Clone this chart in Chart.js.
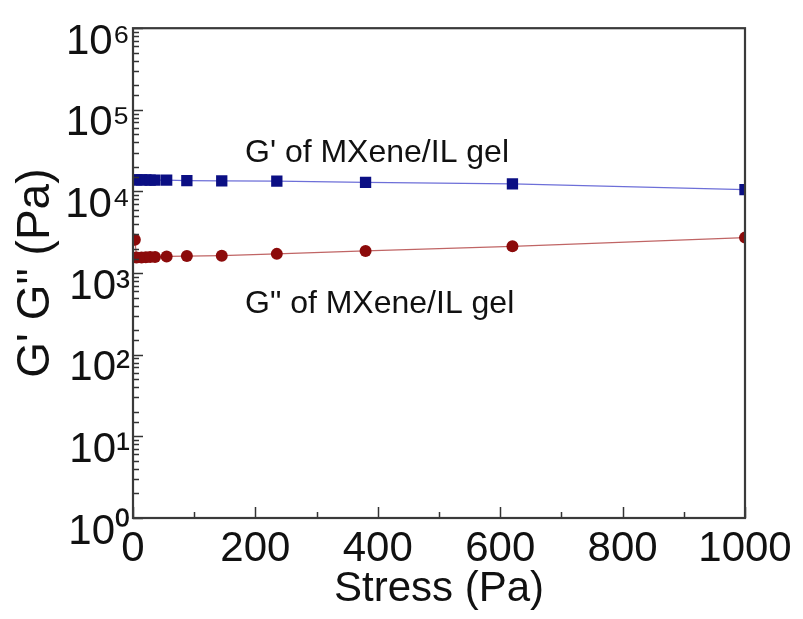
<!DOCTYPE html>
<html>
<head>
<meta charset="utf-8">
<script src="https://cdn.jsdelivr.net/npm/chart.js@4.4.1/dist/chart.umd.min.js"></script>
<style>
  html, body { margin: 0; padding: 0; background: #fff; }
  #wrap { width: 803px; height: 619px; }
</style>
</head>
<body>
<div id="wrap"><canvas id="grafico" width="803" height="619"></canvas></div>
<script>
// valores (Pa)
const stress = [3, 6, 14, 21, 28, 36, 55, 88, 145, 235, 380, 620, 1000];
const gLinha = [13900, 13900, 13900, 13850, 13800, 13800, 13750, 13600, 13500, 13400, 12900, 12400, 10550];
const gDuasLinhas = [2560, 1550, 1555, 1560, 1570, 1580, 1600, 1615, 1635, 1720, 1870, 2130, 2720];

const xLabels = [0, 200, 400, 600, 800, 1000];
const yLabels = ['10⁰', '10¹', '10²', '10³', '10⁴', '10⁵', '10⁶'];

const anotacoes = [
  { text: "G' of MXene/IL gel", x: 183, y: 23000 },
  { text: 'G" of MXene/IL gel', x: 183, y: 324 }
];

const fonte = '"Liberation Sans", Arial, sans-serif';

function pontos(ys) {
  return stress.map(function (s, i) { return { x: s, y: ys[i] }; });
}

// ticks para dentro + caixa em volta + textos
const moldura = {
  id: 'moldura',
  afterDraw(chart) {
    const ctx = chart.ctx;
    const area = chart.chartArea;
    const sx = chart.scales.x;
    const sy = chart.scales.y;
    ctx.save();
    ctx.strokeStyle = '#333';
    ctx.lineWidth = 1.5;
    sy.ticks.forEach(function (t) {
      const py = Math.round(sy.getPixelForValue(t.value)) + 0.5;
      const e = Math.log10(t.value);
      const len = Math.abs(e - Math.round(e)) < 1e-9 ? 10 : 6;
      ctx.beginPath();
      ctx.moveTo(area.left, py);
      ctx.lineTo(area.left + len, py);
      ctx.stroke();
    });
    sx.ticks.forEach(function (t) {
      const px = Math.round(sx.getPixelForValue(t.value)) + 0.5;
      const len = t.value % 200 === 0 ? 11 : 6;
      ctx.beginPath();
      ctx.moveTo(px, area.bottom);
      ctx.lineTo(px, area.bottom - len);
      ctx.stroke();
    });
    ctx.lineWidth = 2.2;
    ctx.strokeStyle = '#3a3a3a';
    ctx.strokeRect(area.left, area.top, area.right - area.left, area.bottom - area.top);

    ctx.fillStyle = '#111';
    ctx.font = '32px ' + fonte;
    ctx.textBaseline = 'alphabetic';
    ctx.textAlign = 'left';
    anotacoes.forEach(function (a) {
      ctx.fillText(a.text, sx.getPixelForValue(a.x), sy.getPixelForValue(a.y));
    });
    ctx.restore();
  }
};

const ctx = document.getElementById('grafico').getContext('2d');
const grafico = new Chart(ctx, {
  type: 'line',
  data: {
    datasets: [{
      label: "G'",
      data: pontos(gLinha),
      borderColor: '#6d6fd8',
      borderWidth: 1.2,
      backgroundColor: '#0b0f84',
      pointBackgroundColor: '#0b0f84',
      pointBorderColor: '#0b0f84',
      pointStyle: 'rect',
      pointRadius: 8,
      pointBorderWidth: 0,
      tension: 0,
      clip: 0
    }, {
      label: 'G"',
      data: pontos(gDuasLinhas),
      borderColor: '#c06565',
      borderWidth: 1.2,
      backgroundColor: '#8c0b0b',
      pointBackgroundColor: '#8c0b0b',
      pointBorderColor: '#8c0b0b',
      pointStyle: 'circle',
      pointRadius: 6,
      pointBorderWidth: 0,
      tension: 0,
      clip: 0
    }]
  },
  options: {
    responsive: false,
    animation: false,
    devicePixelRatio: 1,
    layout: { padding: { left: 0, top: 24, right: 58, bottom: 0 } },
    plugins: { legend: { display: false }, tooltip: { enabled: false } },
    scales: {
      x: {
        type: 'linear',
        min: 0,
        max: 1000,
        afterFit: function (s) { s.height = 101; },
        grid: { display: false, drawTicks: false },
        border: { display: false },
        ticks: {
          stepSize: 100,
          autoSkip: false,
          maxRotation: 0,
          padding: 6,
          color: '#111',
          font: { family: fonte, size: 42, lineHeight: 1.2 },
          callback: function (v) { return xLabels.indexOf(v) >= 0 ? String(v) : ''; }
        },
        title: {
          display: true,
          text: 'Stress (Pa)',
          color: '#111',
          font: { family: fonte, size: 42, lineHeight: 1.2 },
          padding: { top: 0, bottom: 4 }
        }
      },
      y: {
        type: 'logarithmic',
        min: 1,
        max: 1e6,
        afterFit: function (s) { s.width = 133; },
        grid: { display: false, drawTicks: false },
        border: { display: false },
        ticks: {
          autoSkip: false,
          padding: 3,
          labelOffset: 14,
          color: '#111',
          font: { family: fonte, size: 42, lineHeight: 1.2 },
          callback: function (v) {
            const e = Math.log10(v);
            const r = Math.round(e);
            return Math.abs(e - r) < 1e-9 ? yLabels[r] : '';
          }
        },
        title: {
          display: true,
          text: 'G\' G" (Pa)',
          color: '#111',
          font: { family: fonte, size: 46, lineHeight: 1.2 },
          padding: { top: 9, bottom: 0 }
        }
      }
    }
  },
  plugins: [moldura]
});
</script>
</body>
</html>
